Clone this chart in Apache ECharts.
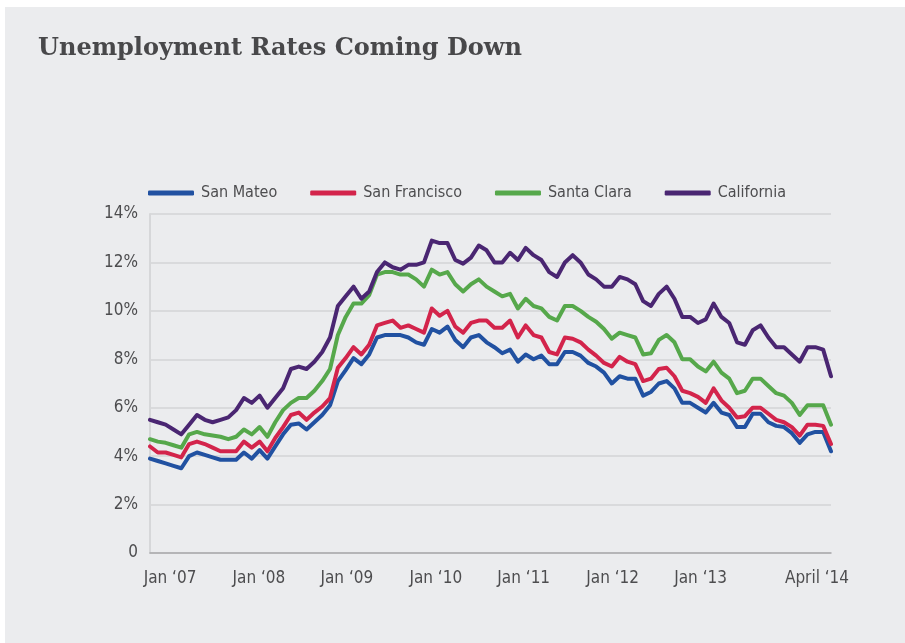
<!DOCTYPE html>
<html>
<head>
<meta charset="utf-8">
<script src="https://cdn.jsdelivr.net/npm/echarts@6/dist/echarts.min.js"></script>
<style>
  html, body { margin: 0; padding: 0; background: #ffffff; }
  #bg { position: absolute; left: 5px; top: 7px; width: 900px; height: 636px; background: #EBECEE; }
  #chart { position: absolute; left: 0; top: 0; width: 905px; height: 643px; }
</style>
</head>
<body>
<div id="bg"></div>
<div id="chart"></div>
<script>
// Monthly, Jan 2007 .. April 2014 (88 months)
const monthNames = ['Jan','Feb','Mar','Apr','May','Jun','Jul','Aug','Sep','Oct','Nov','Dec'];
const months = [];
for (let y = 2007; y <= 2014; y++) {
  for (let m = 0; m < 12; m++) {
    if (y === 2014 && m > 3) break;
    months.push(monthNames[m] + ' ' + y);
  }
}
// axis tick labels keyed by category index
const tickLabels = { 0: 'Jan ‘07', 12: 'Jan ‘08', 24: 'Jan ‘09', 36: 'Jan ‘10', 48: 'Jan ‘11', 60: 'Jan ‘12', 72: 'Jan ‘13', 87: 'April ‘14' };
const yTicks = [0, 2, 4, 6, 8, 10, 12, 14];

const sanMateo = [3.9,3.8,3.7,3.6,3.5,4.0,4.15,4.05,3.95,3.85,3.85,3.85,
  4.15,3.9,4.25,3.9,4.4,4.9,5.3,5.35,5.1,5.4,5.7,6.1,
  7.1,7.55,8.05,7.8,8.2,8.9,9.0,9.0,9.0,8.9,8.7,8.6,
  9.25,9.1,9.35,8.8,8.5,8.9,9.0,8.7,8.5,8.25,8.4,7.9,
  8.2,8.0,8.15,7.8,7.8,8.3,8.3,8.15,7.85,7.7,7.45,7.0,
  7.3,7.2,7.2,6.5,6.65,7.0,7.1,6.8,6.2,6.2,6.0,5.8,
  6.2,5.8,5.7,5.2,5.2,5.75,5.75,5.4,5.25,5.2,4.95,4.55,
  4.9,5.0,5.0,4.2];
const sanFrancisco = [4.4,4.15,4.15,4.05,3.95,4.5,4.6,4.5,4.35,4.2,4.2,4.2,
  4.6,4.35,4.6,4.2,4.75,5.2,5.7,5.8,5.5,5.8,6.05,6.4,
  7.65,8.05,8.5,8.2,8.6,9.4,9.5,9.6,9.3,9.4,9.25,9.1,
  10.1,9.8,10.0,9.35,9.1,9.5,9.6,9.6,9.3,9.3,9.6,8.9,
  9.4,9.0,8.9,8.3,8.2,8.9,8.85,8.7,8.4,8.15,7.85,7.7,
  8.1,7.9,7.8,7.1,7.2,7.6,7.65,7.3,6.7,6.6,6.45,6.2,
  6.8,6.3,6.0,5.6,5.65,6.0,6.0,5.75,5.5,5.4,5.2,4.85,
  5.3,5.3,5.25,4.5];
const santaClara = [4.7,4.6,4.55,4.45,4.35,4.9,5.0,4.9,4.85,4.8,4.7,4.8,
  5.1,4.9,5.2,4.8,5.4,5.9,6.2,6.4,6.4,6.7,7.1,7.6,
  9.0,9.75,10.3,10.3,10.65,11.5,11.6,11.6,11.5,11.5,11.3,11.0,
  11.7,11.5,11.6,11.1,10.8,11.1,11.3,11.0,10.8,10.6,10.7,10.1,
  10.5,10.2,10.1,9.75,9.6,10.2,10.2,10.0,9.75,9.55,9.25,8.85,
  9.1,9.0,8.9,8.2,8.25,8.8,9.0,8.7,8.0,8.0,7.7,7.5,
  7.9,7.45,7.2,6.6,6.7,7.2,7.2,6.9,6.6,6.5,6.2,5.7,
  6.1,6.1,6.1,5.3];
const california = [5.5,5.4,5.3,5.1,4.9,5.3,5.7,5.5,5.4,5.5,5.6,5.9,
  6.4,6.2,6.5,6.0,6.4,6.8,7.6,7.7,7.6,7.9,8.3,8.9,
  10.2,10.6,11.0,10.5,10.8,11.6,12.0,11.8,11.7,11.9,11.9,12.0,
  12.9,12.8,12.8,12.1,11.95,12.2,12.7,12.5,12.0,12.0,12.4,12.1,
  12.6,12.3,12.1,11.6,11.4,12.0,12.3,12.0,11.5,11.3,11.0,11.0,
  11.4,11.3,11.1,10.4,10.2,10.7,11.0,10.5,9.75,9.75,9.5,9.65,
  10.3,9.75,9.5,8.7,8.6,9.2,9.4,8.9,8.5,8.5,8.2,7.9,
  8.5,8.5,8.4,7.3];

const seriesNames = ['San Mateo', 'San Francisco', 'Santa Clara', 'California'];
const seriesData = [sanMateo, sanFrancisco, santaClara, california];
const colors = ['#2151A1', '#D3244B', '#56A84B', '#4A2672'];

// style: horizontal nudges of the x labels (px) to match reference placement
const labelShift = { 0: 20, 12: 15, 24: 9, 36: 4, 48: -2, 60: -7, 72: -13, 87: -14 };

const textColor = '#4D4D4F';
const narrow = '"Liberation Sans Narrow", "DejaVu Sans Condensed", sans-serif';

const rich = {};
Object.keys(labelShift).forEach(k => {
  const s = labelShift[k];
  rich['l' + k] = {
    fontFamily: narrow, fontSize: 17, color: textColor,
    padding: s >= 0 ? [0, 0, 0, 2 * s] : [0, -2 * s, 0, 0]
  };
});

const chart = echarts.init(document.getElementById('chart'), null, { renderer: 'canvas' });
chart.setOption({
  backgroundColor: 'transparent',
  animation: false,
  color: colors,
  title: {
    text: 'Unemployment Rates Coming Down',
    left: 33, top: 32,
    textStyle: { fontFamily: '"DejaVu Serif", serif', fontWeight: 'bold', fontSize: 24, color: '#48484A' }
  },
  legend: {
    data: seriesNames,
    left: 143, top: 180,
    itemWidth: 46, itemHeight: 5, itemGap: 33,
    icon: 'roundRect',
    textStyle: { fontFamily: narrow, fontSize: 16, color: textColor, padding: [0, 0, 0, 2] }
  },
  grid: { left: 150, right: 74, top: 214, bottom: 90, containLabel: false },
  xAxis: {
    type: 'category',
    data: months,
    boundaryGap: false,
    axisLine: { show: true, lineStyle: { color: '#A9A9AB', width: 1.5 } },
    axisTick: { show: false },
    splitLine: { show: false },
    axisLabel: {
      interval: function (i) { return tickLabels[i] !== undefined; },
      margin: 17,
      formatter: function (v, i) { return tickLabels[i] !== undefined ? '{l' + i + '|' + tickLabels[i] + '}' : ''; },
      rich: rich
    }
  },
  yAxis: {
    type: 'value',
    min: yTicks[0], max: yTicks[yTicks.length - 1], interval: 2,
    axisLine: { show: true, lineStyle: { color: '#D6D7D9', width: 2 } },
    axisTick: { show: false },
    splitLine: { show: true, lineStyle: { color: '#D9DADC', width: 2 } },
    axisLabel: {
      margin: 12,
      fontFamily: narrow, fontSize: 17, color: textColor,
      formatter: function (v) { return v === 0 ? '0' : v + '%'; }
    }
  },
  series: seriesNames.map((name, k) => ({
    name: name,
    type: 'line',
    data: seriesData[k],
    symbol: 'none',
    smooth: false,
    lineStyle: { width: 4, color: colors[k], join: 'round', cap: 'round' },
    itemStyle: { color: colors[k] }
  }))
});
</script>
</body>
</html>
